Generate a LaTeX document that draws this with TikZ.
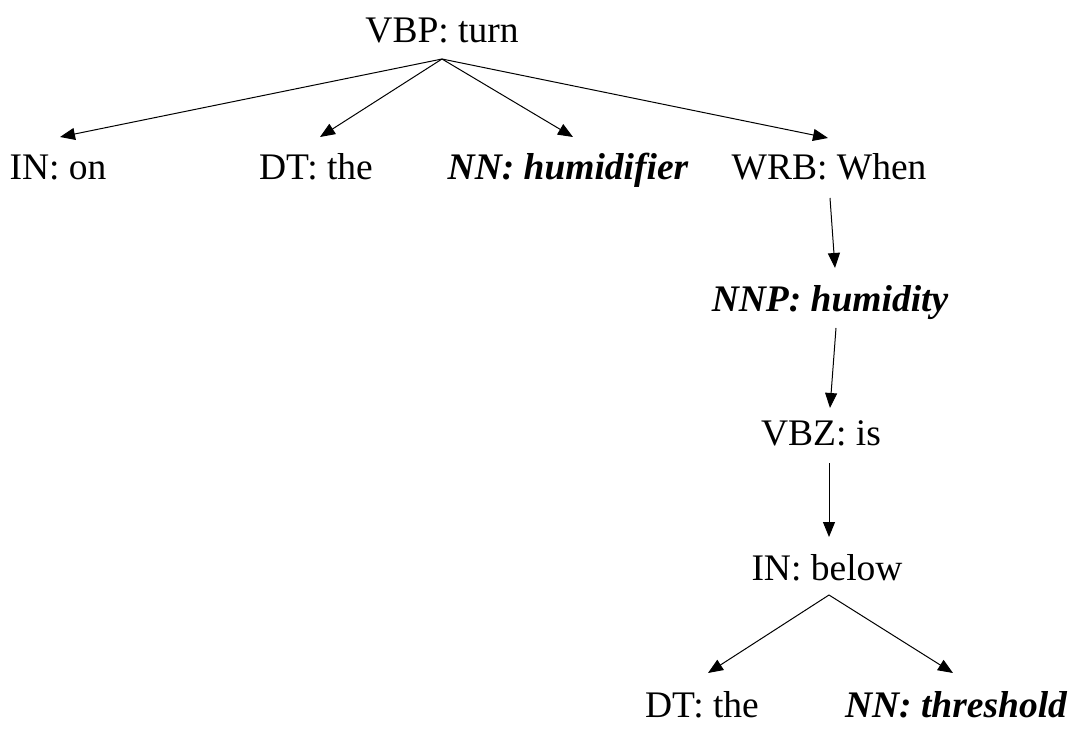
\documentclass[tikz,border=0pt]{standalone}
\usepackage{fontspec}
\setmainfont{Liberation Serif}
\usetikzlibrary{arrows.meta,calc}
\begin{document}
\begin{tikzpicture}[x=1pt,y=-1pt,
  lbl/.style={anchor=base,inner sep=0pt,font=\fontsize{37.5}{40}\selectfont},
  hl/.style={lbl,font=\fontsize{37.5}{40}\selectfont\bfseries\itshape},
  arr/.style={line width=1pt,-{Triangle[length=15pt,width=12pt]}}]
\useasboundingbox (0,0) rectangle (1077,743);
\node[lbl] (vbp) at (442,43) {VBP: turn};
\node[lbl] (in) at (58,180) {IN: on};
\node[lbl] (dt) at (316,180) {DT: the};
\node[hl] (nn) at (568,180) {NN: humidifier};
\node[lbl] (wrb) at (829,180) {WRB: When};
\node[hl] (nnp) at (830,312) {NNP: humidity};
\node[lbl] (vbz) at (821,445) {VBZ: is};
\node[lbl] (below) at (827,580) {IN: below};
\node[lbl] (dtb) at (702,717) {DT: the};
\node[hl] (nnb) at (956,717) {NN: threshold};
\draw[arr] ($(vbp.base)+(0,16)$) -- ($(in.base)+(2,-43)$);
\draw[arr] ($(vbp.base)+(0,16)$) -- ($(dt.base)+(4,-43)$);
\draw[arr] ($(vbp.base)+(0,16)$) -- ($(nn.base)+(5,-43)$);
\draw[arr] ($(vbp.base)+(0,16)$) -- ($(wrb.base)+(-1,-42)$);
\draw[arr] ($(wrb.base)+(1,18)$) -- ($(nnp.base)+(5,-44)$);
\draw[arr] ($(nnp.base)+(6,16)$) -- ($(vbz.base)+(9,-37)$);
\draw[arr] ($(vbz.base)+(8,18)$) -- ($(below.base)+(2,-43)$);
\draw[arr] ($(below.base)+(2,15)$) -- ($(dtb.base)+(6,-44)$);
\draw[arr] ($(below.base)+(2,15)$) -- ($(nnb.base)+(-3,-44)$);
\end{tikzpicture}
\end{document}
